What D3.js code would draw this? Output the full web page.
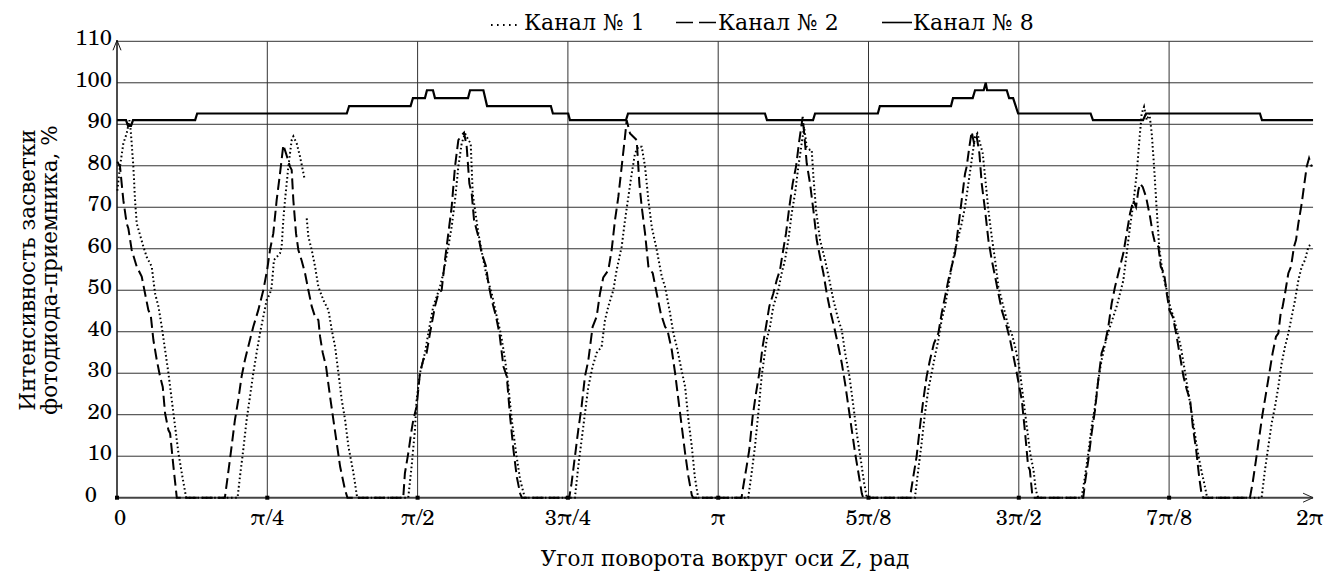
<!DOCTYPE html>
<html>
<head>
<meta charset="utf-8">
<script src="https://cdn.jsdelivr.net/npm/d3@7"></script>
<style>
  html, body { margin: 0; padding: 0; background: #fff; }
  svg { display: block; }
  text { font-family: "DejaVu Serif", serif; fill: #000; }
  text.num { font-family: "TeX Gyre Schola", "DejaVu Serif", serif; }
</style>
</head>
<body>
<svg id="canvas" width="1330" height="574"></svg>
<script>
// Angles are kept in degrees (0..360 = 0..2π), values in percent.
const xTickDeg = [0, 45, 90, 135, 180, 225, 270, 315, 360];
const xTickLabels = ["0", "π/4", "π/2", "3π/4", "π", "5π/8", "3π/2", "7π/8", "2π"];
const yTicks = [0, 10, 20, 30, 40, 50, 60, 70, 80, 90, 100, 110];
const seriesNames = ["Канал № 1", "Канал № 2", "Канал № 8"];

// Channel 1 (dotted). null = break in the line.
const channel1 = [
  [0.1, 74.0], [0.9, 79.8], [1.9, 85.4], [2.9, 87.8], [3.7, 91.0], [4.1, 88.6], [4.9, 79.8], [5.4, 71.7],
  [5.9, 66.1], [7.9, 60.5], [8.9, 58.0], [10.4, 55.7], [11.4, 49.2], [12.4, 46.1], [13.4, 41.2], [14.4, 35.6],
  [15.4, 30.0], [16.4, 23.5], [17.4, 17.1], [18.4, 10.7], [19.4, 5.9], [20.7, 0],
  [36.1, 0], [36.8, 5.0], [37.8, 11.5], [38.8, 18.7], [39.8, 24.3], [40.8, 30.0], [41.8, 34.9], [42.8, 39.6],
  [43.8, 43.6], [44.8, 47.6], [45.8, 49.2], [46.3, 50.8], [47.0, 57.3], [47.8, 58.0], [48.8, 58.9], [49.3, 60.5],
  [49.8, 67.0], [50.3, 71.7], [51.3, 79.8], [52.3, 86.2], [52.8, 87.1], [53.8, 85.4], [54.8, 82.2], [56.1, 77.1],
  null,
  [56.8, 67.3], [57.3, 62.9], [58.3, 59.7], [59.3, 55.7], [60.3, 50.8], [61.8, 47.6], [63.3, 45.2], [64.3, 40.4],
  [65.3, 36.4], [66.3, 30.0], [67.3, 23.5], [68.3, 18.7], [69.3, 12.3], [70.8, 5.9], [71.9, 0],
  [87.2, 0], [88.2, 7.5], [89.2, 16.3], [89.7, 23.5], [90.7, 30.0], [92.2, 34.9], [93.2, 39.6], [94.7, 46.1],
  [96.7, 50.8], [97.7, 54.1], [99.2, 60.5], [100.2, 65.3], [101.2, 71.7], [102.2, 79.8], [103.2, 85.4],
  [104.2, 87.8], [105.2, 86.2], [105.9, 85.4], [106.5, 73.3], [107.2, 69.3], [108.2, 63.7], [109.5, 58.0],
  [110.7, 53.3], [112.2, 49.2], [113.5, 44.4], [114.9, 39.6], [116.2, 33.2], [117.2, 26.7], [118.2, 18.7],
  [119.5, 10.7], [120.7, 4.3], [122.1, 0],
  [137.1, 0], [138.1, 7.5], [139.1, 13.9], [140.1, 20.3], [141.1, 26.7], [142.4, 31.6], [143.6, 34.9],
  [145.1, 36.4], [146.1, 42.8], [147.1, 46.1], [148.6, 50.0], [149.6, 54.9], [151.1, 60.5], [152.1, 66.9],
  [153.1, 72.5], [154.1, 78.1], [155.1, 83.0], [156.1, 84.6], [157.1, 84.6], [158.1, 79.8], [159.1, 71.7],
  [160.1, 65.3], [161.6, 59.7], [163.1, 53.3], [164.1, 50.8], [165.6, 44.4], [166.6, 39.6], [167.6, 36.4],
  [168.8, 31.6], [170.1, 26.7], [171.1, 18.7], [172.1, 12.3], [173.0, 5.0], [174.0, 0],
  [189.0, 0], [190.0, 5.9], [191.0, 12.3], [192.0, 20.3], [193.0, 29.2], [194.5, 38.0], [195.5, 41.2],
  [196.5, 46.1], [198.0, 50.0], [199.0, 54.1], [200.0, 57.3], [201.0, 62.1], [202.0, 68.5], [203.0, 73.3],
  [204.0, 79.8], [205.0, 85.4], [205.7, 89.4], [206.5, 84.6], [207.5, 83.8], [208.0, 83.8], [208.5, 77.4],
  [209.3, 69.3], [210.5, 62.1], [212.0, 57.3], [213.3, 52.4], [214.5, 47.6], [216.0, 42.8], [217.0, 40.4],
  [218.0, 34.9], [219.3, 29.2], [220.5, 21.9], [221.5, 15.5], [222.7, 9.1], [223.7, 3.5], [224.5, 0],
  [238.9, 0], [239.9, 6.7], [240.9, 13.1], [241.9, 20.3], [242.9, 26.0], [243.9, 30.0], [244.9, 34.1],
  [245.9, 38.0], [246.9, 42.8], [247.9, 46.1], [248.9, 50.8], [249.9, 55.7], [250.9, 59.7], [251.9, 62.9],
  [252.9, 66.1], [253.9, 70.1], [254.9, 75.7], [255.9, 81.4], [256.9, 87.0], [257.6, 87.8], [258.4, 85.4],
  [259.2, 83.0], [259.9, 77.4], [260.9, 69.3], [261.9, 62.9], [262.9, 57.3], [263.9, 50.8], [264.9, 47.6],
  [265.9, 44.4], [266.9, 41.2], [267.9, 39.5], [268.9, 36.4], [269.9, 32.5], [270.4, 30.0], [271.4, 23.5],
  [272.4, 17.1], [273.4, 10.7], [274.4, 6.7], [275.1, 1.8], [275.8, 0],
  [288.8, 0], [289.8, 5.0], [290.8, 10.7], [291.8, 17.1], [292.8, 21.9], [293.8, 28.4], [294.8, 33.2],
  [296.1, 38.0], [297.3, 41.2], [298.3, 43.6], [299.3, 46.1], [300.3, 49.2], [301.3, 52.4], [302.3, 58.9],
  [303.3, 65.3], [304.3, 71.0], [305.3, 78.1], [306.1, 86.2], [306.8, 92.6], [307.5, 94.2], [308.3, 91.0],
  [309.1, 92.6], [309.8, 87.8], [310.5, 79.8], [311.3, 69.3], [312.1, 59.7], [313.1, 54.1], [314.3, 50.0],
  [315.3, 46.1], [316.3, 43.6], [317.3, 40.4], [318.5, 36.4], [319.5, 31.6], [320.8, 25.1], [322.1, 18.7],
  [323.3, 12.3], [324.4, 7.5], [325.5, 3.5], [326.4, 0],
  [342.7, 0], [343.7, 6.7], [344.7, 12.3], [345.7, 17.9], [346.7, 21.9], [347.7, 26.7], [348.7, 32.4],
  [349.7, 36.4], [350.7, 39.6], [351.7, 43.6], [352.7, 47.6], [353.7, 52.4], [354.7, 55.7], [355.7, 57.3],
  [356.7, 60.5], [357.7, 61.3]
];

// Channel 2 (dashed)
const channel2 = [
  [0.1, 81.0], [0.9, 79.8], [1.9, 71.7], [2.9, 66.1], [3.4, 64.9], [4.4, 59.7], [5.9, 55.7], [6.9, 54.1],
  [7.4, 53.3], [8.4, 49.2], [9.4, 45.2], [10.1, 44.0], [10.9, 38.0], [11.9, 33.2], [12.9, 29.2], [13.7, 26.7],
  [14.4, 20.3], [15.4, 16.3], [15.9, 15.5], [16.9, 7.5], [17.9, 0],
  [32.3, 0], [33.8, 9.1], [35.3, 18.7], [36.3, 23.5], [37.3, 29.2], [38.3, 33.2], [39.8, 38.0], [40.8, 41.2],
  [42.3, 45.2], [43.8, 50.0], [45.0, 55.1], [45.8, 59.7], [46.8, 63.7], [47.8, 71.7], [48.8, 78.1], [49.8, 85.0],
  [50.6, 83.0], [51.8, 79.8], [52.3, 79.0], [52.8, 71.7], [53.6, 63.7], [54.3, 59.7], [55.3, 57.1], [56.3, 54.1],
  [57.3, 50.0], [58.3, 46.1], [59.3, 43.6], [60.3, 42.8], [60.8, 38.8], [61.6, 34.9], [62.6, 31.6], [63.8, 24.3],
  [64.8, 18.7], [65.8, 13.1], [66.8, 7.5], [68.3, 1.8], [69.0, 0],
  [85.7, 0], [86.2, 5.9], [87.2, 10.7], [88.2, 16.3], [88.7, 18.7], [89.7, 22.0], [90.7, 30.0], [91.7, 33.2],
  [92.7, 34.9], [93.7, 39.6], [95.2, 46.1], [96.2, 49.2], [97.2, 50.0], [98.2, 57.3], [99.2, 63.7], [100.2, 70.1],
  [101.2, 79.8], [102.2, 86.2], [103.2, 87.4], [103.9, 88.0], [104.7, 84.6], [105.5, 75.7], [106.2, 73.3],
  [106.9, 66.9], [108.2, 62.9], [109.2, 58.9], [110.5, 55.7], [111.2, 51.6], [112.2, 47.6], [113.5, 43.6],
  [114.5, 39.6], [115.7, 31.6], [116.7, 29.2], [117.7, 19.5], [118.7, 11.5], [119.7, 5.0], [120.7, 1.0], [121.2, 0],
  [135.4, 0], [136.1, 3.5], [137.1, 9.9], [138.1, 16.3], [139.1, 22.0], [140.1, 29.2], [141.1, 33.0], [142.4, 41.2],
  [143.6, 43.6], [144.6, 49.2], [145.6, 53.1], [147.1, 54.8], [148.1, 59.7], [149.1, 66.9], [150.1, 72.5],
  [151.1, 79.8], [152.1, 87.0], [152.6, 91.0], [153.6, 87.8], [154.6, 87.0], [155.6, 86.2], [156.4, 75.7],
  [157.1, 70.1], [158.1, 63.7], [159.1, 55.7], [160.4, 54.1], [161.6, 49.2], [162.8, 44.4], [164.1, 41.2],
  [164.8, 40.4], [166.1, 35.6], [167.1, 30.0], [168.1, 23.5], [169.1, 17.1], [170.1, 10.7], [171.1, 5.0],
  [172.1, 0.6], [172.5, 0],
  [187.0, 0], [187.5, 2.7], [188.5, 7.5], [189.3, 11.5], [190.3, 19.5], [191.3, 25.1], [192.3, 30.0], [193.3, 36.4],
  [194.3, 41.2], [195.3, 46.1], [196.5, 49.2], [197.5, 52.4], [198.5, 54.9], [199.3, 58.9], [200.3, 63.7],
  [201.3, 70.1], [202.3, 75.7], [203.3, 79.8], [204.3, 86.2], [205.3, 91.8], [206.0, 85.4], [206.5, 80.6],
  [207.5, 75.7], [208.5, 69.3], [209.5, 62.1], [210.5, 58.0], [211.5, 54.1], [212.5, 49.2], [213.5, 45.2],
  [214.7, 41.2], [216.0, 36.4], [217.0, 32.4], [218.0, 27.5], [219.0, 21.9], [220.0, 16.3], [221.0, 10.7],
  [222.0, 5.9], [223.0, 1.0], [223.4, 0],
  [237.4, 0], [238.4, 5.0], [239.4, 9.9], [240.4, 17.1], [241.4, 23.5], [242.4, 29.2], [243.4, 33.2], [244.6, 37.2],
  [245.9, 39.6], [246.9, 44.4], [247.9, 48.4], [248.9, 52.4], [249.9, 55.7], [250.9, 58.9], [251.9, 65.3],
  [252.9, 71.7], [253.9, 78.1], [254.4, 79.8], [255.2, 84.6], [255.9, 88.2], [256.6, 85.4], [257.4, 87.0],
  [258.2, 83.0], [258.9, 75.7], [259.9, 69.3], [260.9, 62.1], [261.9, 57.3], [262.9, 53.3], [263.9, 49.2],
  [264.9, 45.2], [266.4, 41.2], [267.4, 38.0], [268.4, 34.1], [269.4, 30.0], [270.9, 23.5], [271.9, 15.5],
  [272.8, 7.5], [273.3, 6.7], [274.1, 0.2], [274.4, 0],
  [289.3, 0], [289.8, 3.5], [290.8, 9.0], [291.8, 15.5], [292.8, 21.0], [293.8, 28.4], [294.8, 34.9], [295.8, 37.2],
  [296.8, 41.2], [297.8, 46.8], [298.8, 50.8], [299.8, 54.1], [301.3, 58.9], [302.3, 63.7], [303.3, 68.5],
  [304.3, 71.7], [305.1, 70.1], [305.8, 74.1], [306.3, 75.7], [307.1, 74.9], [308.1, 72.5], [309.3, 67.7],
  [310.1, 63.7], [310.8, 61.3], [311.8, 60.5], [312.5, 55.7], [313.5, 54.1], [314.3, 49.2], [315.1, 45.2],
  [316.1, 43.6], [317.1, 39.6], [318.1, 34.9], [319.3, 29.2], [320.3, 26.0], [321.3, 23.5], [322.1, 17.1],
  [323.1, 11.5], [324.0, 5.0], [324.7, 1.0], [325.2, 0],
  [339.2, 0], [340.0, 3.5], [341.0, 9.0], [342.0, 14.7], [343.0, 20.3], [344.0, 25.1], [345.0, 30.0], [346.0, 34.9],
  [347.0, 38.8], [347.7, 39.6], [348.4, 44.4], [349.0, 46.1], [349.7, 49.2], [350.7, 54.1], [351.5, 55.7],
  [352.4, 60.5], [353.0, 62.1], [353.7, 66.1], [354.7, 70.9], [355.5, 75.7], [356.2, 79.8], [356.9, 81.8],
  [357.7, 79.8]
];

// Channel 8 (solid), step-like
const channel8 = [
  [0, 91.0], [2.7, 91.0], [3.3, 89.6], [4.2, 89.6], [4.8, 91.0], [23.4, 91.0], [24.0, 92.6], [68.8, 92.6],
  [69.5, 94.4], [87.9, 94.4], [88.6, 96.3], [92.2, 96.3], [92.8, 98.2], [94.6, 98.2], [95.2, 96.3],
  [105.1, 96.3], [105.7, 98.2], [109.7, 98.2], [110.8, 94.4], [129.9, 94.4], [130.5, 92.6], [135.1, 92.6],
  [135.6, 91.0], [152.4, 91.0], [153.0, 92.6], [194.0, 92.6], [194.6, 91.0], [208.4, 91.0], [209.0, 92.6],
  [227.8, 92.6], [228.4, 94.4], [249.7, 94.4], [250.3, 96.3], [256.2, 96.3], [256.9, 98.2], [259.5, 98.2],
  [260.1, 100.0], [260.5, 98.2], [266.4, 98.2], [267.1, 96.3], [268.3, 96.3], [269.8, 92.6], [291.5, 92.6],
  [292.2, 91.0], [307.2, 91.0], [308.1, 92.6], [342.2, 92.6], [342.8, 91.0], [358.1, 91.0]
];

const X_END_DEG = 358.1;   // where the drawn axis/grid stops

const svg = d3.select("#canvas");
const plotLeft = 117, plotTop = 41.3, plotBottom = 497.7;

const x = d3.scaleLinear().domain([0, 360]).range([plotLeft, 1319.4]);
const y = d3.scaleLinear().domain([0, 110]).range([plotBottom, plotTop]);
const xEnd = x(X_END_DEG);

// Grid lines.
const grid = svg.append("g").attr("stroke", "#333").attr("stroke-width", 1);
grid.selectAll("line.h")
    .data(yTicks.filter(d => d > 0))
    .enter().append("line")
    .attr("x1", plotLeft).attr("x2", xEnd)
    .attr("y1", d => y(d)).attr("y2", d => y(d));
grid.selectAll("line.v")
    .data(xTickDeg.filter(d => d > 0 && d < 360))
    .enter().append("line")
    .attr("x1", d => x(d)).attr("x2", d => x(d))
    .attr("y1", y(110)).attr("y2", y(0));

// Axes with arrows.
svg.append("line")
    .attr("x1", plotLeft).attr("x2", xEnd)
    .attr("y1", y(0)).attr("y2", y(0))
    .attr("stroke", "#444").attr("stroke-width", 2);
svg.append("path")
    .attr("d", `M${xEnd - 10},${y(0) - 4.5}L${xEnd},${y(0)}L${xEnd - 10},${y(0) + 4.5}`)
    .attr("fill", "none").attr("stroke", "#222").attr("stroke-width", 1);
svg.append("line")
    .attr("x1", plotLeft).attr("x2", plotLeft)
    .attr("y1", y(0)).attr("y2", y(110) - 1)
    .attr("stroke", "#111").attr("stroke-width", 1.5);
svg.append("path")
    .attr("d", `M${plotLeft - 4},${y(110) + 9}L${plotLeft},${y(110) - 1}L${plotLeft + 4},${y(110) + 9}`)
    .attr("fill", "none").attr("stroke", "#111").attr("stroke-width", 1);

// Tick squares on the x axis.
svg.selectAll("rect.tick")
    .data(xTickDeg.filter(d => d < 360))
    .enter().append("rect")
    .attr("x", d => x(d) - 2).attr("y", y(0) - 2)
    .attr("width", 4).attr("height", 4)
    .attr("fill", "#000");

// Series.
const line = d3.line()
    .defined(d => d !== null)
    .x(d => x(d[0]))
    .y(d => y(d[1]));

svg.append("path").datum(channel8)
    .attr("d", line).attr("fill", "none")
    .attr("stroke", "#000").attr("stroke-width", 2.2);
svg.append("path").datum(channel2)
    .attr("d", line).attr("fill", "none")
    .attr("stroke", "#000").attr("stroke-width", 2)
    .attr("stroke-dasharray", "11,5");
svg.append("path").datum(channel1)
    .attr("d", line).attr("fill", "none")
    .attr("stroke", "#000").attr("stroke-width", 2)
    .attr("stroke-dasharray", "1.6,2.6");

// Y tick labels.
svg.selectAll("text.ylab")
    .data(yTicks)
    .enter().append("text")
    .attr("class", "num")
    .attr("x", d => d === 0 ? 97 : 112)
    .attr("y", d => y(d) + 4)
    .attr("text-anchor", "end")
    .attr("font-size", 22)
    .text(d => d);

// X tick labels.
svg.selectAll("text.xlab")
    .data(xTickDeg)
    .enter().append("text")
    .attr("class", "num")
    .attr("x", (d, i) => d === 360 ? xEnd - 3 : x(d) + (i === 0 ? 3 : 0))
    .attr("y", 525)
    .attr("text-anchor", "middle")
    .attr("font-size", 22)
    .text((d, i) => xTickLabels[i]);

// X axis title.
const xTitle = svg.append("text")
    .attr("x", 725).attr("y", 566)
    .attr("text-anchor", "middle")
    .attr("font-size", 21.5);
xTitle.append("tspan").text("Угол поворота вокруг оси ");
xTitle.append("tspan").attr("font-style", "italic").text("Z");
xTitle.append("tspan").text(", рад");

// Y axis title, two rotated lines.
const yTitle = svg.append("text")
    .attr("transform", "translate(35,270) rotate(-90)")
    .attr("text-anchor", "middle")
    .attr("font-size", 21.5);
yTitle.append("tspan").attr("x", 0).attr("dy", 0).text("Интенсивность засветки");
yTitle.append("tspan").attr("x", 0).attr("dy", 22).text("фотодиода-приемника, %");

// Legend.
const legendX = [491, 676, 882];
const legendTextX = [33, 42, 31];
const legend = svg.selectAll("g.legend")
    .data(seriesNames)
    .enter().append("g")
    .attr("transform", (d, i) => `translate(${legendX[i]},0)`);
legend.append("line")
    .attr("x1", 0).attr("x2", (d, i) => i === 1 ? 41 : 30)
    .attr("y1", (d, i) => i === 0 ? 25 : 22.5).attr("y2", (d, i) => i === 0 ? 25 : 22.5)
    .attr("stroke", "#000")
    .attr("stroke-width", (d, i) => i === 0 ? 1.8 : 1.6)
    .attr("stroke-dasharray", (d, i) => i === 0 ? "1.6,4.4" : (i === 1 ? "17,6" : null));
legend.append("text")
    .attr("x", (d, i) => legendTextX[i])
    .attr("y", 30)
    .attr("font-size", 22)
    .text(d => d);
</script>
</body>
</html>
